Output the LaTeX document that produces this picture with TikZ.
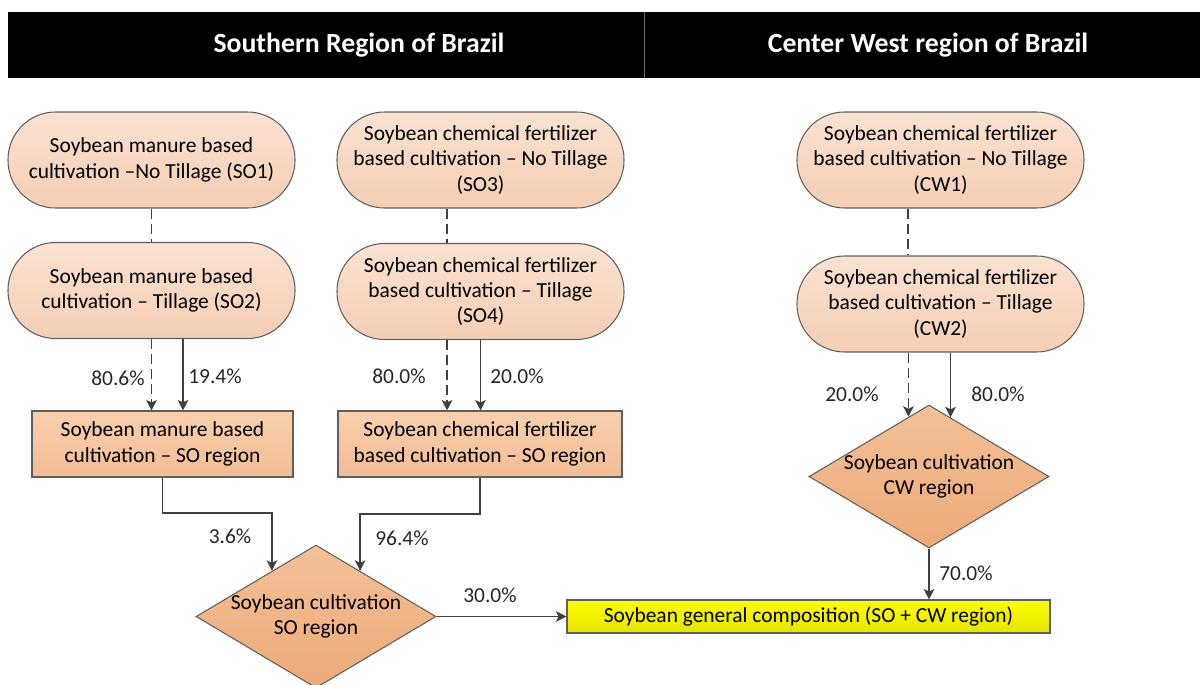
\documentclass[tikz,border=0pt]{standalone}
\usepackage{fontspec}
\setmainfont{Carlito}
\usetikzlibrary{arrows.meta,positioning,shapes.geometric}
\definecolor{stadtop}{RGB}{251,226,210}
\definecolor{stadbot}{RGB}{245,206,180}
\definecolor{boxtop}{RGB}{248,208,174}
\definecolor{boxbot}{RGB}{242,188,147}
\definecolor{diatop}{RGB}{243,192,152}
\definecolor{diabot}{RGB}{237,170,120}
\definecolor{yeltop}{RGB}{255,255,0}
\definecolor{yelbot}{RGB}{228,228,0}
\definecolor{edgegray}{RGB}{95,95,95}
\definecolor{arrgray}{RGB}{64,64,64}
\newcommand\diagfont{\fontsize{12.2}{14.4}\selectfont}
\tikzset{
  stad/.style={rectangle, rounded corners=0.95cm, draw=edgegray, line width=0.6pt,
    top color=stadtop, bottom color=stadbot, align=center, inner sep=2pt,
    minimum width=5.74cm, minimum height=1.92cm, font=\diagfont},
  procbox/.style={rectangle, draw=edgegray, line width=0.6pt, top color=boxtop,
    bottom color=boxbot, align=center, minimum height=1.32cm, font=\diagfont},
  decis/.style={diamond, aspect=1.68, draw=edgegray, line width=0.6pt, top color=diatop,
    bottom color=diabot, align=center, inner xsep=-0.25cm, inner ysep=0pt,
    minimum width=4.8cm, minimum height=2.86cm, font=\diagfont},
  totalbox/.style={rectangle, draw=edgegray, line width=0.6pt, top color=yeltop,
    bottom color=yelbot, minimum width=9.66cm, minimum height=0.66cm, font=\diagfont},
  hdr/.style={text=white, font=\fontsize{15.8}{18}\selectfont\bfseries},
  pct/.style={font=\diagfont, text=black!85},
  flow/.style={-{Stealth[length=2.1mm,width=2.1mm,inset=0.5mm]}, line width=1pt, draw=arrgray},
  fb/.style={flow, dash pattern=on 0.2cm off 0.1cm},
  link/.style={line width=1pt, draw=arrgray, dash pattern=on 0.2cm off 0.1cm},
}
\begin{document}
\begin{tikzpicture}
  \useasboundingbox (0,0) rectangle (24,-13.68);
  % header bar
  \fill[black] (0.16,-0.24) rectangle (24,-1.56);
  \draw[black!60] (12.88,-0.24) -- (12.88,-1.56);
  \node[hdr] (sohead) at (7.18,-0.9) {Southern Region of Brazil};
  \node[hdr] (cwhead) at (18.56,-0.9) {Center West region of Brazil};

  % southern region
  \node[stad] (so1) at (3.03,-3.2) {Soybean manure based\\cultivation --No Tillage (SO1)};
  \node[stad] (so2) at (3.03,-5.81) {Soybean manure based\\cultivation -- Tillage (SO2)};
  \node[stad] (so3) at (9.61,-3.2) {Soybean chemical fertilizer\\based cultivation -- No Tillage\\(SO3)};
  \node[stad] (so4) at (9.61,-5.83) {Soybean chemical fertilizer\\based cultivation -- Tillage\\(SO4)};
  \node[procbox, minimum width=5.22cm] (somanure) at (3.25,-8.88) {Soybean manure based\\cultivation -- SO region};
  \node[procbox, minimum width=5.68cm] (sochem) at (9.6,-8.88) {Soybean chemical fertilizer\\based cultivation -- SO region};
  \node[decis] (sodiam) at (6.32,-12.33) {Soybean cultivation\\SO region};

  % center west region
  \node[stad] (cw1) at (18.81,-3.2) {Soybean chemical fertilizer\\based cultivation -- No Tillage\\(CW1)};
  \node[stad] (cw2) at (18.81,-6.08) {Soybean chemical fertilizer\\based cultivation -- Tillage\\(CW2)};
  \node[decis] (cwdiam) at (18.58,-9.53) {Soybean cultivation\\CW region};

  \node[totalbox] (total) at (16.17,-12.33) {Soybean general composition (SO + CW region)};

  % connectors
  \draw[link] (so1.south) -- (so2.north);
  \draw[link] ([xshift=-0.67cm]so3.south) -- ([xshift=-0.67cm]so3.south |- so4.north);
  \draw[link] ([xshift=-0.65cm]cw1.south) -- ([xshift=-0.65cm]cw1.south |- cw2.north);

  \draw[fb] (so2.south) -- (so2.south |- somanure.north);
  \draw[flow] ([xshift=0.63cm]so2.south) -- ([xshift=0.63cm]so2.south |- somanure.north);
  \draw[fb] ([xshift=-0.67cm]so4.south) -- ([xshift=-0.67cm]so4.south |- sochem.north);
  \draw[flow] (so4.south) -- (so4.south |- sochem.north);
  \draw[fb] (cwdiam.109.6 |- cw2.south) -- (cwdiam.109.6);
  \draw[flow] (cwdiam.70.4 |- cw2.south) -- (cwdiam.70.4);

  \draw[flow] (somanure.south) -- ++(0,-0.71) -| (sodiam.134.2);
  \draw[flow] (sochem.south) -- ++(0,-0.73) -| (sodiam.46.9);
  \draw[flow] (sodiam.east) -- (total.west);
  \draw[flow] (cwdiam.south) -- (cwdiam.south |- total.north);

  % shares
  \node[pct] (p806) at (2.36,-7.56) {80.6\%};
  \node[pct] (p194) at (4.30,-7.52) {19.4\%};
  \node[pct] (p800a) at (7.98,-7.52) {80.0\%};
  \node[pct] (p200a) at (10.34,-7.52) {20.0\%};
  \node[pct] (p200b) at (17.04,-7.88) {20.0\%};
  \node[pct] (p800b) at (19.96,-7.88) {80.0\%};
  \node[pct] (p36) at (4.6,-10.72) {3.6\%};
  \node[pct] (p964) at (8.04,-10.76) {96.4\%};
  \node[pct] (p300) at (9.8,-11.9) {30.0\%};
  \node[pct] (p700) at (19.32,-11.46) {70.0\%};
\end{tikzpicture}
\end{document}
